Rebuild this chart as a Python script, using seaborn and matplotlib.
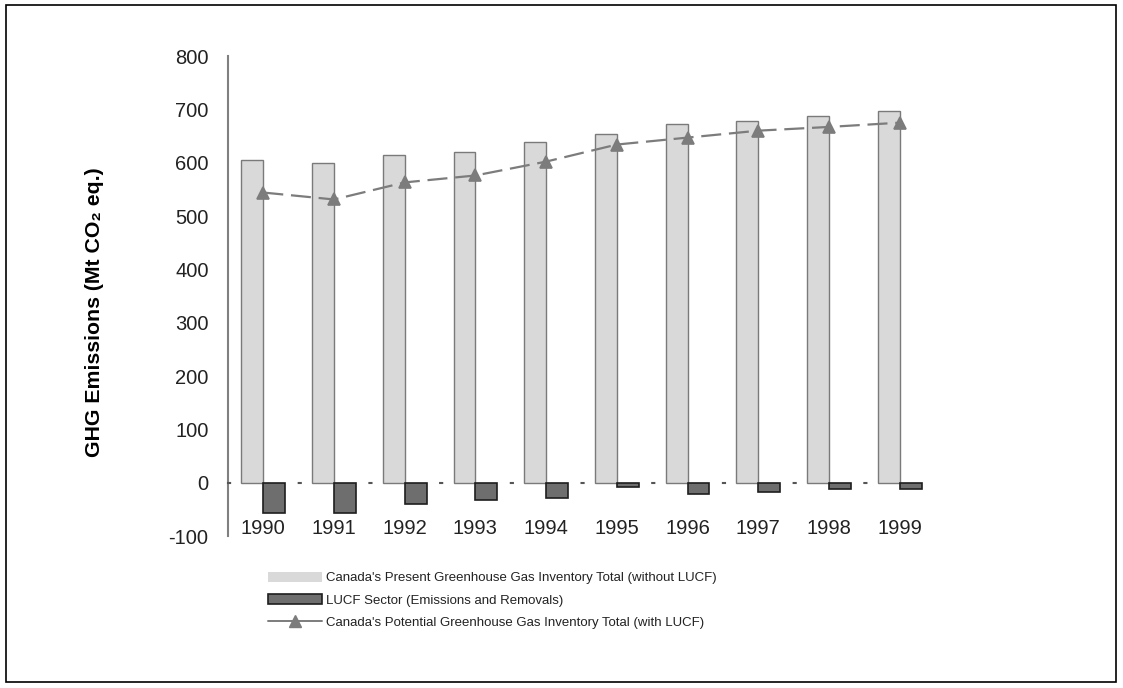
import numpy as np
import pandas as pd
import matplotlib
matplotlib.use("Agg")
import matplotlib.pyplot as plt
from matplotlib.patches import Patch, Rectangle
from matplotlib.lines import Line2D
import seaborn as sns

# values (Mt CO2 eq.)
years = ["1990", "1991", "1992", "1993", "1994", "1995", "1996", "1997", "1998", "1999"]
present_total = [605, 600, 614, 620, 638, 653, 673, 679, 688, 697]
lucf_sector = [-56, -56, -40, -33, -28, -8, -22, -17, -12, -11]
potential_total = [544, 531, 563, 576, 602, 634, 647, 660, 667, 675]

lab_present = "Canada's Present Greenhouse Gas Inventory Total (without LUCF)"
lab_lucf = "LUCF Sector (Emissions and Removals)"
lab_potential = "Canada's Potential Greenhouse Gas Inventory Total (with LUCF)"

light = "#d9d9d9"
dark = "#6e6e6e"
line_c = "#7c7c7c"

df = pd.DataFrame({
    "Year": years * 2,
    "Series": [lab_present] * len(years) + [lab_lucf] * len(years),
    "Value": present_total + lucf_sector,
})

sns.set_style("white")
plt.rcParams["font.family"] = ["Liberation Sans", "DejaVu Sans"]
plt.rcParams["axes.unicode_minus"] = False

fig = plt.figure(figsize=(11.23, 6.88), dpi=100)
ax = fig.add_axes([0.203, 0.2209, 0.6296, 0.6977])

sns.barplot(data=df, x="Year", y="Value", hue="Series",
            palette={lab_present: light, lab_lucf: dark},
            width=0.62, gap=0, ax=ax, legend=False, zorder=2)
for cont, ec, lw in zip(ax.containers, ["#7a7a7a", "#1e1e1e"], [1.0, 1.2]):
    for bar in cont:
        bar.set_edgecolor(ec)
        bar.set_linewidth(lw)

# potential total with LUCF, drawn through the categorical axis
sns.pointplot(x=years, y=potential_total, color=line_c, markers="^",
              linestyles=(0, (9, 3.5)), markersize=8, linewidth=1.6,
              ax=ax, zorder=4)

ax.set_xlim(-0.5, 9.5)
ax.set_ylim(-100, 800)
ax.set_yticks(range(-100, 801, 100))
ax.set_xlabel("")
ax.set_ylabel("GHG Emissions (Mt CO₂ eq.)", fontsize=15.3, fontweight="bold",
              color="black")
ax.yaxis.set_label_coords(-0.176, 0.467)

for s in ["top", "right"]:
    ax.spines[s].set_visible(False)
ax.spines["left"].set_color("#808080")
ax.spines["left"].set_linewidth(1.5)

# zero line as dash-dot axis with dots at category boundaries
ax.spines["bottom"].set_position(("data", 0))
ax.spines["bottom"].set_color("#555555")
ax.spines["bottom"].set_linewidth(1.5)
cat_pt = 0.6296 * 11.23 * 72 / 10
ax.spines["bottom"].set_linestyle((0, (1.0, cat_pt / 1.5 - 1.0)))

ax.tick_params(axis="y", direction="out", length=7, width=1, color="#808080",
               labelsize=14.5, labelcolor="#222222", pad=7)
ax.tick_params(axis="x", length=0, labelsize=14.5, labelcolor="#222222", pad=26)

handles = [
    Patch(facecolor=light, edgecolor="none"),
    Patch(facecolor=dark, edgecolor="#1e1e1e", linewidth=1.2),
    Line2D([], [], color=line_c, marker="^", markersize=8, linewidth=1.4),
]
fig.legend(handles, [lab_present, lab_lucf, lab_potential],
           loc="upper left", bbox_to_anchor=(0.234, 0.177), frameon=False,
           prop={"size": 9.5},
           handlelength=4.1, handleheight=0.85, handletextpad=0.3,
           labelspacing=0.72, borderaxespad=0, labelcolor="#222222")

fig.patches.append(Rectangle((0.005, 0.008), 0.989, 0.985, transform=fig.transFigure,
                             fill=False, edgecolor="black", linewidth=1.2))

fig.savefig("out.png", dpi=100)
